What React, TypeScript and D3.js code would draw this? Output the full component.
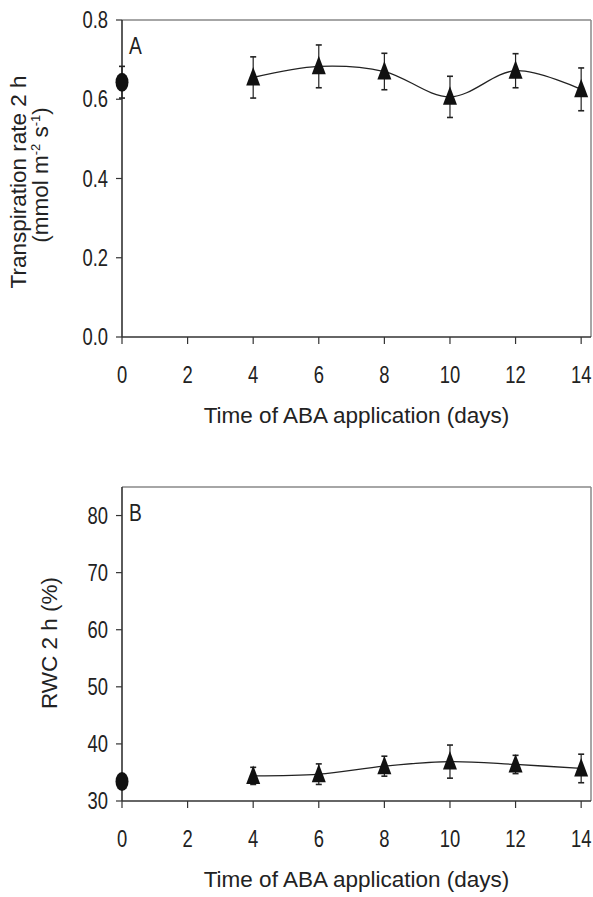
import React from 'react';
import * as d3 from 'd3';

// days of ABA application
const controlDay = [0];
const abaDays = [4, 6, 8, 10, 12, 14];
const xTicks = [0, 2, 4, 6, 8, 10, 12, 14];

// panel A: transpiration rate 2 h (mmol m-2 s-1)
const transControl = [0.643];
const transControlErr = [0.04];
const transAba = [0.655, 0.683, 0.67, 0.606, 0.672, 0.625];
const transAbaErr = [0.052, 0.054, 0.046, 0.052, 0.043, 0.054];
const transTicks = [0, 0.2, 0.4, 0.6, 0.8];

// panel B: RWC 2 h (%)
const rwcControl = [33.4];
const rwcControlErr = [0.8];
const rwcAba = [34.4, 34.7, 36.1, 36.9, 36.4, 35.7];
const rwcAbaErr = [1.5, 1.8, 1.75, 2.9, 1.6, 2.5];
const rwcTicks = [30, 40, 50, 60, 70, 80];

const W = 593;
const H = 897;
const left = 122;
const right = 591;
const FONT = '"Liberation Sans", Arial, sans-serif';
const INK = '#222';

type PanelProps = {
  top: number;
  bottom: number;
  yDomain: [number, number];
  yTicks: number[];
  yFormat: (v: number) => string;
  letter: string;
  control: number[];
  controlErr: number[];
  aba: number[];
  abaErr: number[];
  yTitle: React.ReactNode;
};

function Panel(p: PanelProps) {
  const x = d3.scaleLinear().domain([0, 14.3]).range([left, right]);
  const y = d3.scaleLinear().domain(p.yDomain).range([p.bottom, p.top]);

  const line = d3
    .line<number>()
    .x((d, i) => x(abaDays[i]))
    .y((d) => y(d))
    .curve(d3.curveCatmullRom.alpha(0.5));

  const errBar = (cx: number, v: number, e: number, key: string) => (
    <g key={key} stroke={INK} strokeWidth={1.2}>
      <line x1={cx} x2={cx} y1={y(v + e)} y2={y(v - e)} />
      <line x1={cx - 3} x2={cx + 3} y1={y(v + e)} y2={y(v + e)} strokeWidth={1.6} />
      <line x1={cx - 3} x2={cx + 3} y1={y(v - e)} y2={y(v - e)} strokeWidth={1.6} />
    </g>
  );

  const tri = (cx: number, cy: number) =>
    `M${cx},${cy - 10.5}L${cx + 7},${cy + 8}L${cx - 7},${cy + 8}Z`;

  return (
    <g>
      {/* frame */}
      <line x1={left} x2={right} y1={p.top} y2={p.top} stroke="#888" strokeWidth={1.5} />
      <line x1={right} x2={right} y1={p.top} y2={p.bottom} stroke="#888" strokeWidth={1.5} />
      <line x1={left} x2={left} y1={p.top} y2={p.bottom} stroke="#333" strokeWidth={1.6} />
      <line x1={left} x2={right} y1={p.bottom} y2={p.bottom} stroke="#333" strokeWidth={1.6} />

      {/* y ticks */}
      {p.yTicks.map((t) => (
        <g key={'y' + t}>
          <line x1={left - 6} x2={left} y1={y(t)} y2={y(t)} stroke="#333" strokeWidth={1.2} />
          <text
            transform={`translate(${left - 14},${y(t) + 8}) scale(0.8,1)`}
            textAnchor="end"
            fontSize={23}
            fontFamily={FONT}
            fill={INK}
          >
            {p.yFormat(t)}
          </text>
        </g>
      ))}

      {/* x ticks */}
      {xTicks.map((t) => (
        <g key={'x' + t}>
          <line x1={x(t)} x2={x(t)} y1={p.bottom} y2={p.bottom + 7} stroke="#333" strokeWidth={1.2} />
          <text
            transform={`translate(${x(t)},${p.bottom + 46}) scale(0.8,1)`}
            textAnchor="middle"
            fontSize={23}
            fontFamily={FONT}
            fill={INK}
          >
            {t}
          </text>
        </g>
      ))}

      <text
        x={(200 + 513) / 2}
        y={p.bottom + 86}
        textAnchor="middle"
        fontSize={22.5}
        fontFamily={FONT}
        fill={INK}
      >
        Time of ABA application (days)
      </text>

      {p.yTitle}

      <text
        transform={`translate(${left + 7},${p.top + 34}) scale(0.8,1)`}
        fontSize={24}
        fontFamily={FONT}
        fill={INK}
      >
        {p.letter}
      </text>

      {/* ABA series */}
      <path d={line(p.aba) || ''} fill="none" stroke={INK} strokeWidth={1.3} />
      {p.aba.map((v, i) => errBar(x(abaDays[i]), v, p.abaErr[i], 'e' + i))}
      {p.aba.map((v, i) => (
        <path key={'t' + i} d={tri(x(abaDays[i]), y(v))} fill="#111" />
      ))}

      {/* control */}
      {p.control.map((v, i) => errBar(x(controlDay[i]), v, p.controlErr[i], 'c' + i))}
      {p.control.map((v, i) => (
        <ellipse key={'o' + i} cx={x(controlDay[i])} cy={y(v)} rx={6.5} ry={9.5} fill="#111" />
      ))}
    </g>
  );
}

export default function App() {
  const topA = 20;
  const botA = 337;
  const topB = 487;
  const botB = 801;
  return (
    <svg
      width={W}
      height={H}
      style={{ position: 'absolute', left: 0, top: 0, background: '#fff' }}
    >
      <Panel
        top={topA}
        bottom={botA}
        yDomain={[0, 0.8]}
        yTicks={transTicks}
        yFormat={d3.format('.1f')}
        letter="A"
        control={transControl}
        controlErr={transControlErr}
        aba={transAba}
        abaErr={transAbaErr}
        yTitle={
          <g fontFamily={FONT} fill={INK} fontSize={22.5} textAnchor="middle">
            <text transform="translate(26,182) rotate(-90)">Transpiration rate 2 h</text>
            <text transform="translate(48,175) rotate(-90)">
              (mmol m
              <tspan dy={-8} fontSize={13}>-2</tspan>
              <tspan dy={8}> s</tspan>
              <tspan dy={-8} fontSize={13}>-1</tspan>
              <tspan dy={8}>)</tspan>
            </text>
          </g>
        }
      />
      <Panel
        top={topB}
        bottom={botB}
        yDomain={[30, 85]}
        yTicks={rwcTicks}
        yFormat={d3.format('d')}
        letter="B"
        control={rwcControl}
        controlErr={rwcControlErr}
        aba={rwcAba}
        abaErr={rwcAbaErr}
        yTitle={
          <text
            transform="translate(57,643) rotate(-90)"
            textAnchor="middle"
            fontSize={22.5}
            fontFamily={FONT}
            fill={INK}
          >
            RWC 2 h (%)
          </text>
        }
      />
    </svg>
  );
}
